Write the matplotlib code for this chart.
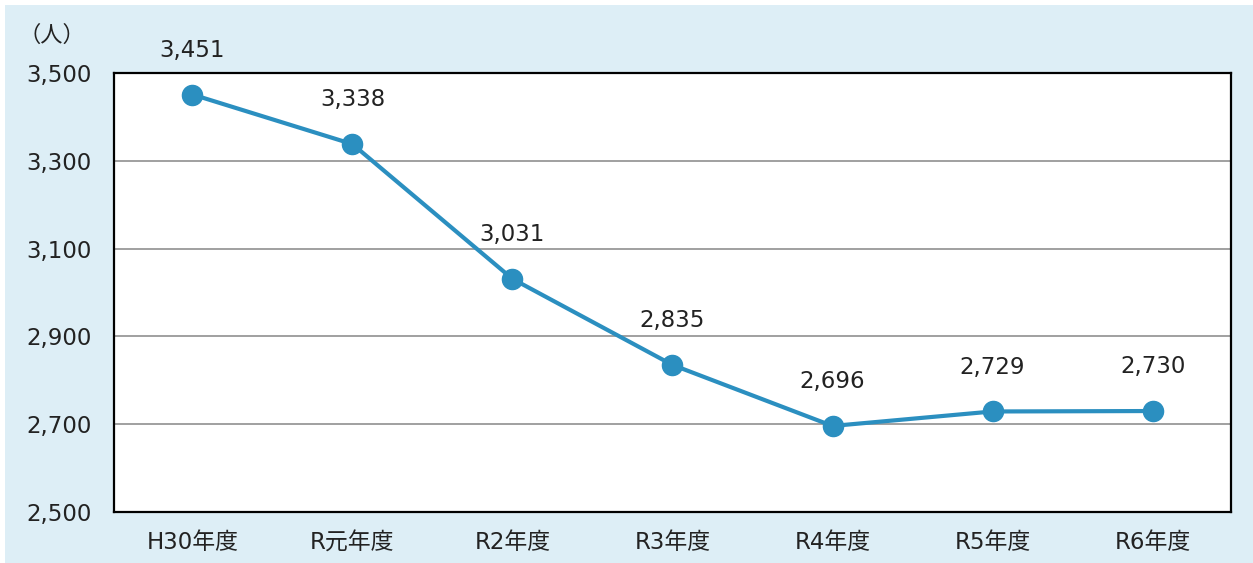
import matplotlib.pyplot as plt
from matplotlib.patches import Rectangle

plt.rcParams['font.family'] = ['DejaVu Sans', 'Noto Sans CJK JP']

years = ['H30年度', 'R元年度', 'R2年度', 'R3年度', 'R4年度', 'R5年度', 'R6年度']
people = [3451, 3338, 3031, 2835, 2696, 2729, 2730]
y_ticks = [2500, 2700, 2900, 3100, 3300, 3500]

line_color = '#2b8fc0'
bg_color = '#ddeef6'
text_color = '#222222'

fig = plt.figure(figsize=(12.53, 5.63), dpi=100)
fig.patches.append(Rectangle((5 / 1253, 0), 1 - 5 / 1253, 1 - 5 / 563,
                             transform=fig.transFigure, facecolor=bg_color,
                             edgecolor='none', zorder=-10))
ax = fig.add_axes([114 / 1253, 51 / 563, 1117 / 1253, 439 / 563])
ax.set_facecolor('white')

x = list(range(len(years)))
ax.plot(x, people, color=line_color, linewidth=3, marker='o',
        markersize=14.5, zorder=3, clip_on=False)
for xi, v in zip(x, people):
    ax.annotate(f'{v:,}', (xi, v), xytext=(0, 32), textcoords='offset points',
                ha='center', va='center', fontsize=16.5, color=text_color)

ax.set_xlim(-0.49, 6.49)
ax.set_ylim(2500, 3500)
ax.set_xticks(x)
ax.set_xticklabels(years)
ax.set_yticks(y_ticks)
ax.set_yticklabels([f'{t:,}' for t in y_ticks])
ax.tick_params(axis='both', length=0, labelsize=16.5, colors=text_color)
ax.tick_params(axis='y', pad=16)
ax.tick_params(axis='x', pad=14)
ax.grid(axis='y', color='#999999', linewidth=1.3)
ax.set_axisbelow(True)
for s in ax.spines.values():
    s.set_linewidth(1.6)
    s.set_color('black')

fig.text(18 / 1253, 1 - 35 / 563, '（人）', fontsize=16, va='center',
         ha='left', color=text_color, family='Noto Sans CJK JP')

fig.savefig('out.png', dpi=100)
